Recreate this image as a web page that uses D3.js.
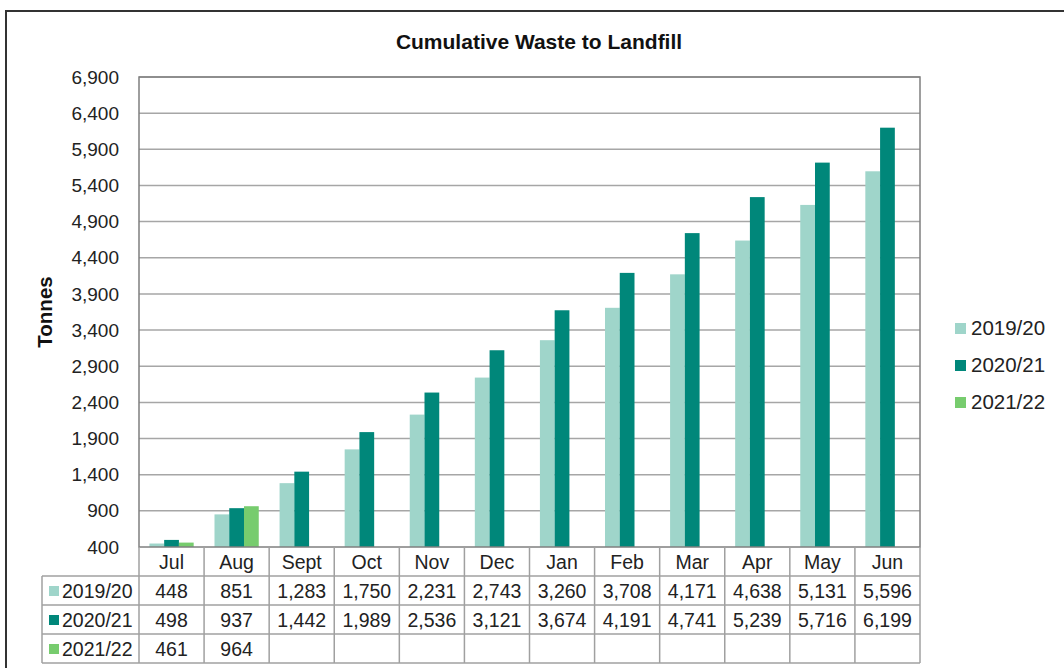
<!DOCTYPE html>
<html><head><meta charset="utf-8">
<script src="https://cdn.jsdelivr.net/npm/d3@7"></script>
<style>body{margin:0;background:#fff}svg{display:block;font-family:"Liberation Sans",Arial,sans-serif}</style>
</head><body><svg id="c" width="1064" height="668"></svg>
<script>
const categories = ["Jul","Aug","Sept","Oct","Nov","Dec","Jan","Feb","Mar","Apr","May","Jun"];
const seriesNames = ["2019/20","2020/21","2021/22"];
const values2019 = [448,851,1283,1750,2231,2743,3260,3708,4171,4638,5131,5596];
const values2020 = [498,937,1442,1989,2536,3121,3674,4191,4741,5239,5716,6199];
const values2021 = [461,964];
const yTicks = [400,900,1400,1900,2400,2900,3400,3900,4400,4900,5400,5900,6400,6900];
const colors = ["#9fd5ca","#00877a","#77cc6e"];
const title = "Cumulative Waste to Landfill";
const yLabel = "Tonnes";

const series = [values2019, values2020, values2021];
const svg = d3.select("#c");
const L = 139, R = 920, T = 77, B = 547;
const tableLeft = 42, rowH = 29;

// outer border
svg.append("rect").attr("x",6).attr("y",11).attr("width",1100).attr("height",700)
  .attr("fill","none").attr("stroke","#333").attr("stroke-width",2);

const x = d3.scaleBand().domain(categories).range([L,R]).padding(0);
const xi = d3.scaleBand().domain(seriesNames).range([x.bandwidth()*0.16, x.bandwidth()*0.84]).padding(0);
const y = d3.scaleLinear().domain([400,6900]).range([B,T]);

// gridlines
svg.append("g").selectAll("line").data(yTicks.slice(1)).join("line")
  .attr("x1",L).attr("x2",R).attr("y1",d=>y(d)).attr("y2",d=>y(d))
  .attr("stroke","#a6a6a6").attr("stroke-width",1.5);

// y axis labels
const yAxis = d3.axisLeft(y).tickValues(yTicks).tickFormat(d3.format(",")).tickSize(0).tickPadding(20);
const ga = svg.append("g").attr("transform",`translate(${L},0)`).call(yAxis);
ga.select(".domain").remove();
ga.selectAll("text").attr("font-size",19).attr("fill","#222").attr("font-family","Liberation Sans, Arial, sans-serif");

// bars
series.forEach((vals,si)=>{
  svg.append("g").selectAll("rect").data(vals.map((v,i)=>({c:categories[i],v}))).join("rect")
    .attr("x",d=>x(d.c)+xi(seriesNames[si]))
    .attr("width",xi.bandwidth())
    .attr("y",d=>y(d.v))
    .attr("height",d=>B-y(d.v))
    .attr("fill",colors[si]);
});

// plot border
svg.append("rect").attr("x",L).attr("y",T).attr("width",R-L).attr("height",B-T)
  .attr("fill","none").attr("stroke","#7f7f7f").attr("stroke-width",1.5);

// title
svg.append("text").attr("x",539).attr("y",49).attr("text-anchor","middle")
  .attr("font-size",21).attr("font-weight","bold").attr("fill","#111").text(title);

// y label
svg.append("text").attr("transform","translate(52,312) rotate(-90)").attr("text-anchor","middle")
  .attr("font-size",20.5).attr("font-weight","bold").attr("fill","#111").text(yLabel);

// data table
const tg = svg.append("g");
const lineCol = "#a0a0a0";
categories.forEach((c,i)=>{
  tg.append("line").attr("x1",x(c)).attr("x2",x(c)).attr("y1",B).attr("y2",B+rowH*4)
    .attr("stroke",lineCol).attr("stroke-width",1.5);
  tg.append("text").attr("x",x(c)+x.bandwidth()/2).attr("y",B+22).attr("text-anchor","middle")
    .attr("font-size",19.5).attr("fill","#222").text(c);
});
tg.append("line").attr("x1",R).attr("x2",R).attr("y1",B).attr("y2",B+rowH*4).attr("stroke",lineCol).attr("stroke-width",1.5);
tg.append("line").attr("x1",tableLeft).attr("x2",tableLeft).attr("y1",B+rowH).attr("y2",B+rowH*4).attr("stroke",lineCol).attr("stroke-width",1.5);
[1,2,3,4].forEach(r=>{
  tg.append("line").attr("x1",tableLeft).attr("x2",R).attr("y1",B+rowH*r).attr("y2",B+rowH*r)
    .attr("stroke",lineCol).attr("stroke-width",1.5);
});
const fmt = d3.format(",");
series.forEach((vals,si)=>{
  const ry = B+rowH*(si+1);
  tg.append("rect").attr("x",49).attr("y",ry+10).attr("width",10).attr("height",10).attr("fill",colors[si]);
  tg.append("text").attr("x",62).attr("y",ry+22).attr("font-size",19.5).attr("fill","#222").text(seriesNames[si]);
  vals.forEach((v,i)=>{
    tg.append("text").attr("x",x(categories[i])+x.bandwidth()/2).attr("y",ry+22).attr("text-anchor","middle")
      .attr("font-size",19.5).attr("fill","#222").text(fmt(v));
  });
});

// legend
const lg = svg.append("g");
seriesNames.forEach((s,i)=>{
  const ly = 328 + i*37;
  lg.append("rect").attr("x",955).attr("y",ly-5).attr("width",11).attr("height",11).attr("fill",colors[i]);
  lg.append("text").attr("x",971).attr("y",ly+7).attr("font-size",20.5).attr("fill","#222").text(s);
});
</script></body></html>
